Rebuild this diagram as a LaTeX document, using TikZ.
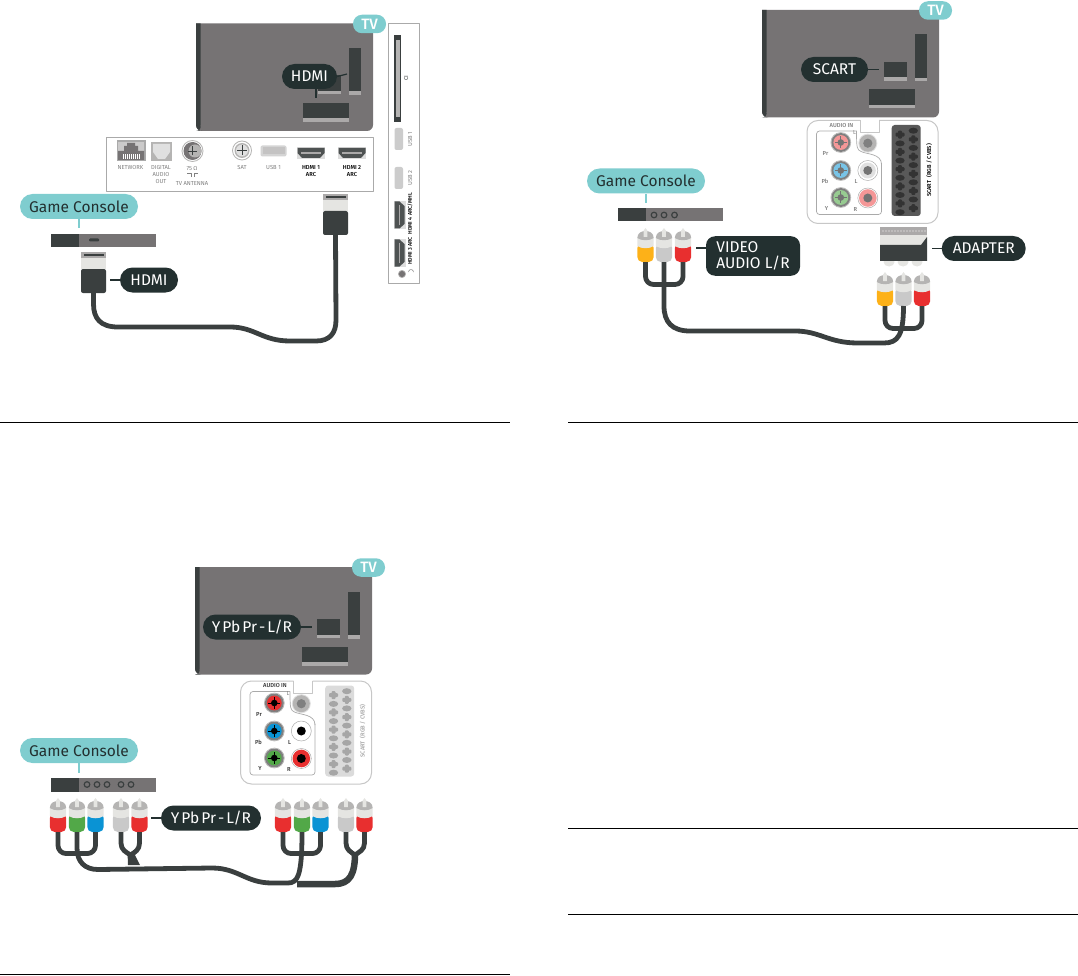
\documentclass[tikz,border=0pt]{standalone}
\usepackage{fontspec}
\setmainfont[BoldFont=* Medium]{Fira Sans}
\usetikzlibrary{arrows.meta}

\definecolor{tvgray}{HTML}{767374}
\definecolor{steel}{HTML}{3A3F3F}
\definecolor{slotlip}{HTML}{ABA9A9}
\definecolor{teal}{HTML}{7FCDCF}
\definecolor{ink}{HTML}{233030}
\definecolor{bandgray}{HTML}{E5E5E2}
\definecolor{capgray}{HTML}{B5B4B3}
\definecolor{rcayellow}{HTML}{FDB118}
\definecolor{rcasilver}{HTML}{C9C9C9}
\definecolor{rcared}{HTML}{E82F2F}
\definecolor{rcagreen}{HTML}{52A848}
\definecolor{rcablue}{HTML}{0A93D4}
\definecolor{frame}{HTML}{AAAAAA}

\tikzset{
    % pills
    pill/.style={fill=ink, text=white, rounded corners=12.5pt, minimum height=25, inner sep=0pt,
        font=\fontsize{15.5}{18}\selectfont},
    gamepill/.style={fill=teal, text=ink, rounded corners=12.5pt, minimum width=118, minimum height=25,
        inner sep=0pt, font=\fontsize{15.5}{18}\selectfont},
    tvpill/.style={fill=teal, text=white, rounded corners=9pt, minimum width=33, minimum height=18.5,
        inner sep=0pt, font=\fontsize{15}{16}\bfseries\selectfont},
    % lines
    lead/.style={draw=ink, line width=1.2},
    tealead/.style={draw=teal, line width=1.2},
    cable/.style={draw=steel, line width=4.8, line cap=butt},
    rule/.style={draw=black, line width=.9},
    % small print
    tiny/.style={text=#1, inner sep=0pt, align=center, font=\fontsize{5.8}{7}\selectfont},
    tiny/.default=gray,
    tinyb/.style={text=#1, inner sep=0pt, align=center, font=\fontsize{5.8}{7}\bfseries\selectfont},
    tinyb/.default=black,
    % televisie
    pics/tvset/.style={code={
        \fill[tvgray] (0,0) [rounded corners=6] -- (0,107.5) -- (177,107.5) [sharp corners] -- (177,0) -- cycle;
        \fill[steel] (0,0) [rounded corners=6] -- (0,107.5) -- (6,107.5) [sharp corners] -- (4.5,102) -- (4.5,0) -- cycle;
        \foreach \sx/\sy/\sw/\sh in {153/24.5/12/47, 107/79.5/46/19, 122/52/23/19}{
            \fill[steel] (\sx,\sy) rectangle ++(\sw,\sh);
            \fill[slotlip] (\sx,\sy+\sh-3.5) rectangle ++(\sw,3.5);
        }
        \node[tvpill] (-badge) at (173.5,0.5) {TV};
    }},
    % console strook
    pics/consolebar/.style={code={
        \fill[tvgray] (0,0) rectangle (105,13.5);
        \fill[steel] (0,0) rectangle (28,13.5);
    }},
    pics/rca/.style={code={
        \fill[#1, rounded corners=5] (-8.2,15) -- (-8.2,34) -- (8.2,34) -- (8.2,15) -- cycle;
        \fill[bandgray] (-8.2,10) -- (-8.2,18) .. controls (-4,21) and (4,21) .. (8.2,18) -- (8.2,10) -- cycle;
        \fill[capgray] (-8.2,10) .. controls (-8.2,5) and (-4,3) .. (0,3) .. controls (4,3) and (8.2,5) .. (8.2,10)
            .. controls (4,13) and (-4,13) .. (-8.2,10);
        \fill[bandgray] (-1.8,9) -- (-1.8,2.5) -- (0,0) -- (1.8,2.5) -- (1.8,9) -- cycle;
        \coordinate (-tail) at (0,34);
    }},
    pics/hdmiplug/.style={code={
        \fill[slotlip] (-12.5,0) rectangle (12.5,6);
        \fill[steel] (-10,2) rectangle (10,4);
        \fill[bandgray] (-12.5,6) rectangle (12.5,17);
        \fill[steel, rounded corners=2] (-12.5,17) -- (-12.5,41) -- (12.5,41) -- (12.5,17) -- cycle;
        \coordinate (-tail) at (0,41);
    }},
    pics/hdmiport/.style={code={
        \fill[frame!40] (-14,-6) rectangle (14,6);
        \fill[steel!90] (-13.5,-5) -- (13.5,-5) -- (13.5,0) -- (9,5) -- (-9,5) -- (-13.5,0) -- cycle;
        \fill[slotlip] (-10,-1) rectangle (10,.6);
    }},
    pics/usbport/.style={code={
        \fill[frame!50, rounded corners=2] (-13,-5.5) rectangle (13,5.5);
        \fill[slotlip!70] (-11,-3.5) rectangle (11,3.5);
    }},
    % achterpaneel met tulp en scart
    pics/jackpanel/.style={code={
        \draw[draw=black!22, fill=white, line width=1, rounded corners=11]
            (53,0) -- (0,0) -- (0,103) -- (131,103) -- (131,0) -- (72,0);
        \draw[draw=black!22, line width=1] (53,0) -- (53,12.5) -- (72,12.5) -- (72,0);
        \draw[draw=frame, line width=.7, rounded corners=3] (49.5,10.5) -- (9.5,10.5) -- (9.5,94) -- (74.5,94) -- (74.5,42.7);
        \draw[draw=frame, line width=.7] (74.5,44) .. controls (74.5,33) and (60,34) .. (54,31) .. controls (50,29) and (49.5,28) .. (49.5,10.5);
        \fill[black!12] (60.8,22.7) circle (9.5);
        \fill[capgray] (60.8,22.7) circle (8.5);
        \fill[gray] (60.8,22.7) circle (4.6);
        \foreach \jx/\jy/\jc/\jr in {33.8/22/jackpr/capgray, 33.8/50/jackpb/capgray, 33.8/77/jacky/capgray}{
            \fill[white] (\jx,\jy) circle (10.5);
            \draw[\jr, line width=.6] (\jx,\jy) circle (10);
            \fill[gray] (\jx,\jy) circle (9.5);
            \fill[\jc] (\jx,\jy) circle (7.4);
            \fill[jackpin] (\jx,\jy) circle (3.3);
            \draw[jackpin, line width=.8] (\jx-6,\jy) -- (\jx+6,\jy) (\jx,\jy-6) -- (\jx,\jy+6);
        }
        \draw[frame, line width=.5, fill=white] (60.8,50) circle (10);
        \fill[jackl] (60.8,50) circle (8);
        \fill[jackpin] (60.8,50) circle (4.5);
        \draw[frame, line width=.5, fill=white] (60.8,77.5) circle (10);
        \fill[jackr] (60.8,77.5) circle (8.8);
        \fill[jackpin] (60.8,77.5) circle (4.5);
        % scart
        \fill[scartback, rounded corners=3] (84.7,4.5) rectangle (113.7,95.5);
        \foreach \k in {0,...,4}{
            \foreach \px/\py in {93/14.2, 106.3/18.9}{
                \fill[scartpin, rounded corners=1] (\px-4.5,\py-2+17.2*\k) rectangle (\px+4.5,\py+2+17.2*\k);
                \fill[scartpin, rounded corners=1] (\px-2,\py-4+17.2*\k) rectangle (\px+2,\py+4+17.2*\k);
            }
            \foreach \ox/\oy in {93/22.9, 106.3/10.2}{
                \fill[scartpin] (\ox,\oy+17.2*\k) ellipse (4.7 and 3);
            }
        }
        \node[tinyb=jacktext] (-audioin) at (34.5,4.7) {AUDIO IN};
        \node[tinyb=jacktext] (-pr) at (18.5,33) {Pr};
        \node[tinyb=jacktext] (-pb) at (18,61) {Pb};
        \node[tinyb=jacktext] (-yy) at (19.5,87.5) {Y};
        \node[tinyb=jacktext] (-ll) at (49,61) {L};
        \node[tinyb=jacktext] (-rr) at (48.5,88.5) {R};
        \node[tiny=gray] (-ltop) at (47.5,12) {L};
        \node[tinyb=scarttext, rotate=90] (-scart) at (122,50) {SCART \ (RGB / CVBS)};
    }},
}

\begin{document}
\begin{tikzpicture}[x=1pt, y=-1pt, line join=round]
\useasboundingbox (0,0) rectangle (1078,976);

%% -- paneel 1: HDMI -------------------------------------
\pic at (196,23.5) {tvset};
\node[pill, minimum width=55] (hdmitv) at (309.5,76.5) {HDMI};
\coordinate (hdmislot) at (347,74);
\coordinate (hdmislotb) at (316,98);
\draw[lead] (hdmitv.east) -- (hdmislot);
\draw[lead] (hdmitv.south -| hdmislotb) -- (hdmislotb);

\draw[draw=frame, fill=white, line width=.9] (106.5,137.5) rectangle (373.5,191);
\draw[draw=frame, fill=white, line width=.9] (388.5,23.5) rectangle (419,283);

% poorten, liggend
\fill[frame] (116.5,140.5) rectangle (145.5,161.5);
\fill[capgray!70] (118,142) rectangle (144,160);
\fill[tvgray] (118,160) -- (118,151) -- (124,151) -- (124,146) -- (127,146) -- (127,143) -- (135,143) -- (135,146) -- (138,146) -- (138,151) -- (144,151) -- (144,160) -- cycle;
\foreach \tx in {123,125,...,139}{ \fill[white] (\tx,154) rectangle ++(.8,5); }
\fill[capgray] (151,142) rectangle (172,161);
\fill[black!12] (153,144) -- (170,144) -- (170,152) -- (165,159) -- (158,159) -- (153,152) -- cycle;
\draw[capgray, line width=.8, fill=white] (192.5,151) circle (10.5);
\fill[tvgray] (192.5,151) circle (9);
\fill[capgray] (195,151) circle (6.5);
\draw[steel, line width=.7] (188,151) -- (197,151) (192.5,146.5) -- (192.5,155.5);
\draw[capgray, line width=.8] (242,150.5) circle (9.5);
\fill[capgray] (242,150.5) circle (7.5);
\fill[black!12] (242,150.5) circle (6);
\draw[steel, line width=.7] (237,150.5) -- (247,150.5) (242,145.5) -- (242,155.5);
\pic at (273.5,151) {usbport};
\pic at (311,153) {hdmiport};
\pic at (352,153) {hdmiport};
\node[tiny] (tnet) at (130.5,168) {NETWORK};
\node[tiny] (tdig) at (161,175) {DIGITAL\\AUDIO\\OUT};
\node[tiny] (tohm) at (192,168.5) {75 Ω};
\draw[gray, line width=.7] (187,173) -- (191,173) -- (191,177) (198,173) -- (194,173) -- (194,177);
\node[tiny] (tant) at (192,184) {TV ANTENNA};
\node[tiny] (tsat) at (242,168) {SAT};
\node[tiny] (tusb) at (273.5,168) {USB 1};
\node[tinyb] (thdmia) at (311,171.5) {HDMI 1\\ARC};
\node[tinyb] (thdmib) at (352,171.5) {HDMI 2\\ARC};

% poorten, staand
\fill[steel] (394,35) rectangle (401,122);
\fill[capgray] (395.5,40) rectangle (399.5,117);
\foreach \uy/\ut in {139/USB 1, 178/USB 2}{
    \fill[frame!60, rounded corners=2] (394.5,\uy-11) rectangle (403,\uy+11);
    \node[tiny, rotate=90] (tv\uy) at (410,\uy) {\ut};
}
\node[tiny=steel, rotate=90] (tci) at (406,78) {CI};
\pic[rotate=90] at (399.5,215) {hdmiport};
\pic[rotate=90] at (399.5,253) {hdmiport};
\node[tinyb, rotate=90, font=\fontsize{5.4}{7}\bfseries\selectfont] (thdmiv) at (410,229) {HDMI 3 ARC \ HDMI 4 ARC/MHL};
\draw[capgray, line width=.7, fill=tvgray] (402,274) circle (3.6);
\draw[gray, line width=.5] (408.5,272) arc (180:360:2.5 and 2.5);

% console
\node[gamepill] (gamea) at (79,206.5) {Game Console};
\pic at (51,234) {consolebar};
\fill[steel, rounded corners=1] (89,238.5) rectangle (99,241.5);
\coordinate (gameabar) at (79,228);
\draw[tealead] (gamea.south) -- (gameabar);

\pic (plugl) at (93.5,252) {hdmiplug};
\pic (plugr) at (335.5,194) {hdmiplug};
\draw[cable] (plugl-tail) -- (93.5,304) .. controls (93.5,318) and (100,327) .. (118,327) -- (230,327)
    .. controls (255,327) and (262,341) .. (290,341) -- (316,341) .. controls (330,341) and (336,333) .. (336,320) -- (plugr-tail);

\node[pill, minimum width=58] (hdmicon) at (149,280) {HDMI};
\coordinate (hdmiplugside) at (110,280);
\draw[lead] (hdmicon.west) -- (hdmiplugside);

%% -- paneel 2: SCART ------------------------------------
\pic at (762,10) {tvset};
\node[pill, minimum width=67] (scarttv) at (834.5,69.5) {SCART};
\coordinate (scartslot) at (879,69.5);
\draw[lead] (scarttv.east) -- (scartslot);

\colorlet{jackpr}{rcared!50!white}
\colorlet{jackpb}{rcablue!55!white}
\colorlet{jacky}{rcagreen!60!white}
\colorlet{jackr}{rcared!50!white}
\colorlet{jackl}{black!12}
\colorlet{jackpin}{black!55}
\colorlet{jacktext}{gray}
\colorlet{scartback}{black!65}
\colorlet{scartpin}{black!80}
\colorlet{scarttext}{black}
\pic at (807,120.5) {jackpanel};

\node[gamepill] (gameb) at (646,181) {Game Console};
\pic at (618,208) {consolebar};
\foreach \dx in {654,664,674.5}{
    \draw[steel, line width=1.2, fill=tvgray] (\dx,215) circle (2.8);
}
\coordinate (gamebbar) at (646,203);
\draw[tealead] (gameb.south) -- (gamebbar);

\foreach \pn/\px/\py/\pc in {ba/645.5/228/rcayellow, bb/664/228/rcasilver, bc/683/228/rcared,
                             bd/885/272/rcayellow, be/903.5/272/rcasilver, bf/922/272/rcared}{
    \pic (\pn) at (\px,\py) {rca=\pc};
}
\draw[cable, rounded corners=8] (ba-tail) -- ++(0,22.5) -| (bc-tail);
\draw[cable, rounded corners=8] (bd-tail) -- ++(0,22.5) -| (bf-tail);
\draw[cable] (bb-tail) -- (664,306) .. controls (664,322) and (672,331) .. (690,331) -- (795,331)
    .. controls (820,331) and (828,343) .. (858,343) -- (884,343) .. controls (898,343) and (903.5,335) .. (be-tail);

% adapter
\foreach \ax in {889,903,917}{ \fill[bandgray] (\ax,262) ellipse (5.5 and 4.5); }
\fill[slotlip] (880,227) rectangle (927,236);
\foreach \ax in {883,886,...,925}{ \fill[white] (\ax,231) circle (.55); }
\fill[bandgray] (880,235) rectangle (927,245);
\fill[steel] (880,245) -- (921,245) -- (927,237) -- (927,261) -- (880,261) -- cycle;
\node[pill, minimum width=84] (adapter) at (983.7,248.5) {ADAPTER};
\coordinate (adapterside) at (932,248.5);
\draw[lead] (adapter.west) -- (adapterside);

\node[fill=ink, text=white, rounded corners=9pt, minimum width=94, minimum height=39.5, inner sep=0pt,
    align=left, font=\fontsize{15.5}{16}\selectfont] (videolbl) at (753,256) {VIDEO\\AUDIO L/R};
\coordinate (videoside) at (696,248);
\draw[lead] (videolbl.west |- videoside) -- (videoside);

%% -- paneel 3: YPbPr ------------------------------------
\pic at (195,567) {tvset};
\node[pill, minimum width=98] (ypbtv) at (252,627) {Y\kern2pt Pb\kern2pt Pr\kern2pt-\kern2pt L/R};
\coordinate (ypbslot) at (312,627);
\draw[lead] (ypbtv.east) -- (ypbslot);

\colorlet{jackpr}{rcared}
\colorlet{jackpb}{rcablue}
\colorlet{jacky}{rcagreen}
\colorlet{jackr}{rcared}
\colorlet{jackl}{white}
\colorlet{jackpin}{black}
\colorlet{jacktext}{black!80}
\colorlet{scartback}{black!14}
\colorlet{scartpin}{black!35}
\colorlet{scarttext}{black!35}
\pic at (240.5,681) {jackpanel};

\node[gamepill] (gamec) at (79,750.5) {Game Console};
\pic at (51,778) {consolebar};
\foreach \dx in {87,97,107,121,131}{
    \draw[steel, line width=1.2, fill=tvgray] (\dx,784.5) circle (2.8);
}
\coordinate (gamecbar) at (79,772.5);
\draw[tealead] (gamec.south) -- (gamecbar);

\foreach \pn/\px/\pc in {ca/58/rcared, cb/77/rcagreen, cc/95.5/rcablue, cd/121/rcasilver, ce/139.5/rcared,
                         cf/283/rcared, cg/302/rcagreen, ch/320.5/rcablue, ci/346/rcasilver, cj/364.5/rcared}{
    \pic (\pn) at (\px,798) {rca=\pc};
}
% vijf kabels
\fill[steel] (127.5,852) -- (133.5,852) -- (140,865) -- (128,865) -- cycle;
\draw[cable] (cd-tail) -- (121,843) .. controls (121,850) and (126,852) .. (130.5,855);
\draw[cable] (ce-tail) -- (139.5,843) .. controls (139.5,850) and (135,852) .. (130.5,855);
\draw[cable] (ci-tail) -- (346,843) .. controls (346,850) and (351,852) .. (355,855);
\draw[cable] (cj-tail) -- (364.5,843) .. controls (364.5,850) and (359,852) .. (355,855);
\draw[cable, line width=6.5] (355,853) .. controls (355,874) and (350,884) .. (335,884) -- (297,884);
\draw[cable, rounded corners=8] (ca-tail) -- ++(0,21.5) -| (cc-tail);
\draw[cable, rounded corners=8] (cf-tail) -- ++(0,21.5) -| (ch-tail);
\draw[cable] (cb-tail) -- (77,848) .. controls (77,862) and (85,869.5) .. (98,869.5) -- (212,868)
    .. controls (238,868) and (246,883) .. (272,883) -- (288,883) .. controls (298,883) and (302,875) .. (cg-tail);

\node[pill, minimum width=100] (ypbcon) at (211,818) {Y\kern2pt Pb\kern2pt Pr\kern2pt-\kern2pt L/R};
\coordinate (ypbside) at (151,818);
\draw[lead] (ypbcon.west) -- (ypbside);

%% -- scheidingslijnen -----------------------------------
\foreach \ax/\ay/\bx in {0/422/510, 568/422/1078, 0/974/510, 568/828/1078, 568/914/1078}{
    \draw[rule] (\ax,\ay) -- (\bx,\ay);
}

\end{tikzpicture}
\end{document}
